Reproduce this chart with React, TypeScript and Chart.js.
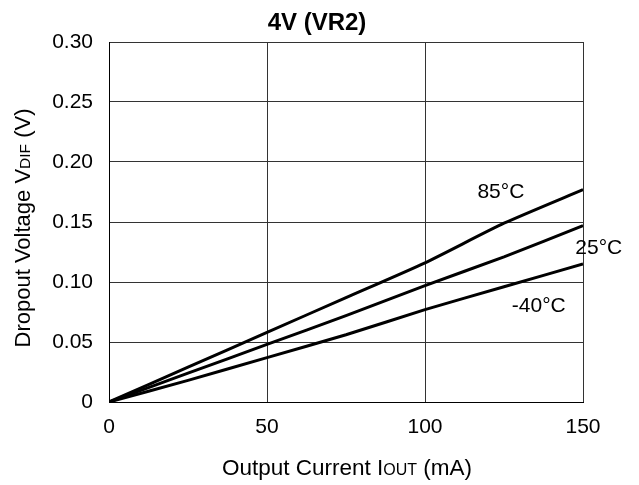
import React, { useEffect, useRef } from "react";
import { Chart, registerables } from "chart.js";

Chart.register(...registerables);

const currents = [0, 25, 50, 75, 100, 125, 150];
const v85 = [0, 0.029, 0.058, 0.087, 0.116, 0.149, 0.177];
const v25 = [0, 0.024, 0.048, 0.072, 0.097, 0.121, 0.147];
const vm40 = [0, 0.018, 0.037, 0.056, 0.077, 0.096, 0.115];
const seriesLabels = ["85°C", "25°C", "-40°C"];
const labelPos = [
  { x: 124, y: 0.175 },
  { x: 155, y: 0.1285 },
  { x: 136, y: 0.0795 },
];
const yTicks = [0, 0.05, 0.1, 0.15, 0.2, 0.25, 0.3];
const xTicks = [0, 50, 100, 150];
const titleText = "4V (VR2)";

const FONT = "'Liberation Sans', Arial, sans-serif";

const drawMixed = (ctx: CanvasRenderingContext2D, parts: [string, number][], x: number, y: number) => {
  let total = 0;
  for (const [t, s] of parts) {
    ctx.font = `${s}px ${FONT}`;
    total += ctx.measureText(t).width;
  }
  let cx = x - total / 2;
  for (const [t, s] of parts) {
    ctx.font = `${s}px ${FONT}`;
    ctx.fillText(t, cx, y);
    cx += ctx.measureText(t).width;
  }
};

const annot = {
  id: "annot",
  afterDraw(chart: any) {
    const ctx = chart.ctx as CanvasRenderingContext2D;
    const xs = chart.scales.x;
    const ys = chart.scales.y;
    ctx.save();
    ctx.fillStyle = "#000";
    // title
    ctx.textBaseline = "alphabetic";
    ctx.font = `bold 24px ${FONT}`;
    ctx.textAlign = "center";
    ctx.fillText(titleText, 317, 30);
    // series labels
    ctx.textBaseline = "middle";
    ctx.font = `21px ${FONT}`;
    ctx.textAlign = "center";
    labelPos.forEach((p, i) => {
      ctx.fillText(seriesLabels[i], xs.getPixelForValue(p.x), ys.getPixelForValue(p.y));
    });
    ctx.textAlign = "left";
    ctx.textBaseline = "alphabetic";
    // x axis title
    drawMixed(ctx, [["Output Current I", 22.5], ["OUT", 16], [" (mA)", 22.5]], (xs.left + xs.right) / 2 + 1, 475);
    // y axis title
    ctx.save();
    ctx.translate(30, (ys.top + ys.bottom) / 2 + 6);
    ctx.rotate(-Math.PI / 2);
    drawMixed(ctx, [["Dropout Voltage V", 22], ["DIF", 15.5], [" (V)", 22]], 0, 0);
    ctx.restore();
    ctx.restore();
  },
};

export default function App() {
  const ref = useRef<HTMLCanvasElement>(null);
  useEffect(() => {
    document.body.style.margin = "0";
    const mk = (d: number[]) => ({
      data: currents.map((x, i) => ({ x, y: d[i] })),
      borderColor: "#000",
      borderWidth: 3,
      pointRadius: 0,
      tension: 0.2,
      fill: false,
    });
    const chart = new Chart(ref.current!, {
      type: "line",
      data: { datasets: [mk(v85), mk(v25), mk(vm40)] },
      options: {
        animation: false,
        responsive: false,
        layout: { padding: { top: 42, right: 56, left: 0, bottom: 0 } },
        plugins: { legend: { display: false }, tooltip: { enabled: false } },
        scales: {
          x: {
            type: "linear",
            min: 0,
            max: 150,
            afterBuildTicks: (s: any) => {
              s.ticks = xTicks.map((v) => ({ value: v }));
            },
            afterFit: (s: any) => {
              s.height = 83;
            },
            grid: { color: "#333", lineWidth: 1, drawTicks: false },
            border: { color: "#000", width: 1 },
            ticks: {
              color: "#000",
              font: { family: FONT, size: 21 },
              padding: 13,
              maxRotation: 0,
              callback: (v: any) => String(v),
            },
          },
          y: {
            min: 0,
            max: 0.3,
            afterBuildTicks: (s: any) => {
              s.ticks = yTicks.map((v) => ({ value: v }));
            },
            afterFit: (s: any) => {
              s.width = 109;
            },
            grid: { color: "#333", lineWidth: 1, drawTicks: false },
            border: { color: "#000", width: 1 },
            ticks: {
              color: "#000",
              font: { family: FONT, size: 21 },
              padding: 16,
              callback: (v: any) => (v === 0 ? "0" : Number(v).toFixed(2)),
            },
          },
        },
      },
      plugins: [annot],
    });
    return () => chart.destroy();
  }, []);
  return <canvas ref={ref} width={639} height={485} style={{ display: "block" }} />;
}
